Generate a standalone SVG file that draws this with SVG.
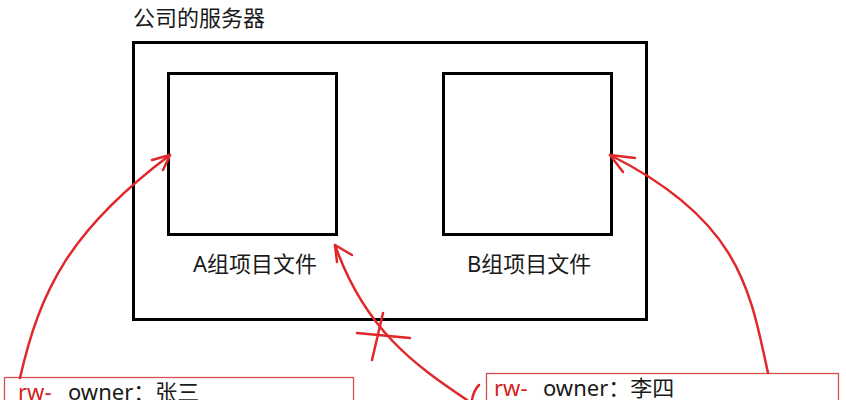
<svg xmlns="http://www.w3.org/2000/svg" width="846" height="400" viewBox="0 0 846 400">
<style>
.t{font-family:"Noto Sans","Noto Sans CJK SC",sans-serif;font-size:22px;fill:#1a1a1a}
.r{fill:#d42020}
.box{fill:none;stroke:#000;stroke-width:3}
.ubox{fill:#fff;stroke:#d45050;stroke-width:1.3}
.c{fill:none;stroke:#e0282a;stroke-width:2.5;stroke-linecap:round;stroke-linejoin:round}
</style>
<rect width="846" height="400" fill="#fff"/>
<g id="server">
<rect class="box" x="133.5" y="42.5" width="513" height="277"/>
<text class="t" x="133" y="26">公司的服务器</text>
</g>
<g id="groupA">
<rect class="box" x="168.5" y="73.5" width="168" height="161"/>
<text class="t" x="193" y="272">A组项目文件</text>
</g>
<g id="groupB">
<rect class="box" x="443.5" y="73.5" width="168" height="161"/>
<text class="t" x="467" y="272">B组项目文件</text>
</g>
<g id="user1">
<rect class="ubox" x="4.5" y="377.5" width="349" height="40"/>
<text class="t" x="18" y="400"><tspan class="r">rw-</tspan><tspan x="68">owner：张三</tspan></text>
</g>
<g id="user2">
<rect class="ubox" x="486.5" y="373.5" width="352" height="40"/>
<text class="t" x="494" y="396"><tspan class="r">rw-</tspan><tspan x="543">owner：李四</tspan></text>
</g>
<g id="connectors">
<path class="c" d="M20,378 C40,290 70,230 170,155"/>
<path class="c" d="M152,160 L170,155 L163,170"/>
<path class="c" d="M768,373 C750,290 740,220 610,155"/>
<path class="c" d="M635,158 L610,155 L623,172"/>
<path class="c" d="M467,400 C415,365 365,330 335,245"/>
<path class="c" d="M352,255 L335,245 L337,262"/>
<path class="c" d="M357,333 L410,338 M383,313 L372,360"/>
<path class="c" d="M479,385 C475,389 473,394 472,400"/>
</g>
</svg>
